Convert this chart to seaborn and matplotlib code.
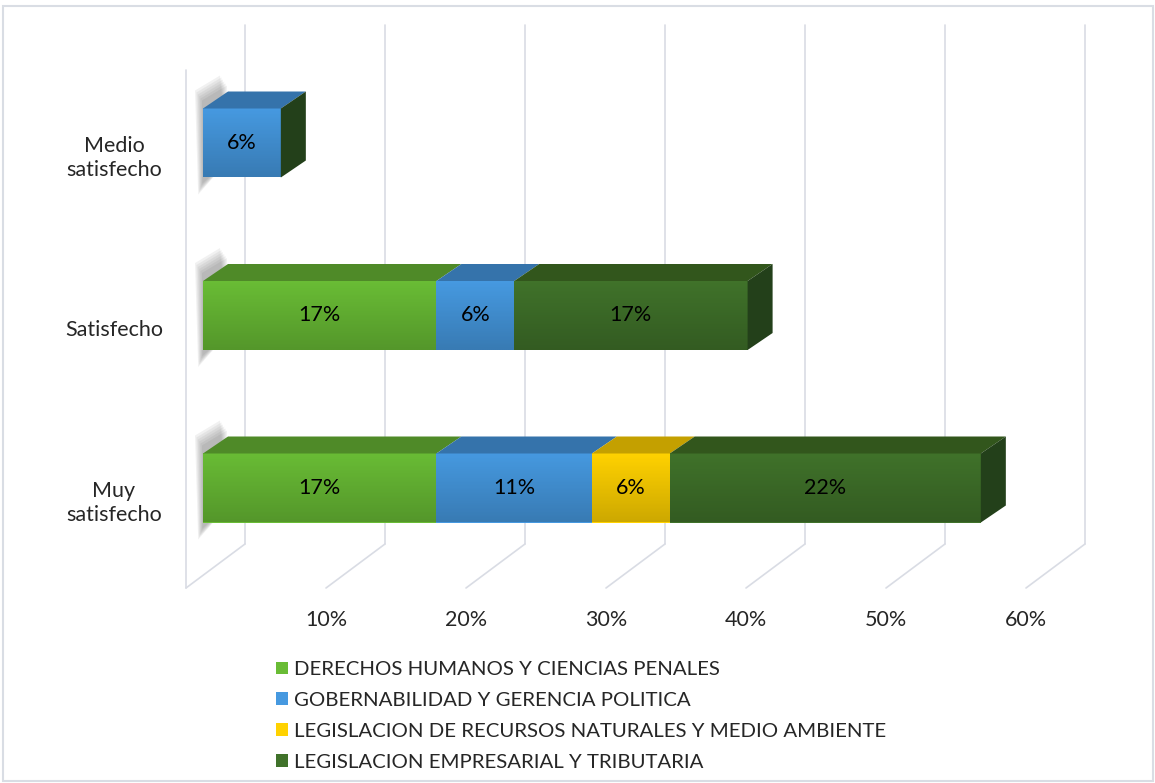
import numpy as np
import matplotlib
matplotlib.use("Agg")
import matplotlib.pyplot as plt
from matplotlib.patches import Polygon, Patch, Rectangle
import seaborn as sns

# ---- data (shares of respondents, n = 18) ----
categories = ["Medio\nsatisfecho", "Satisfecho", "Muy\nsatisfecho"]
series = ["DERECHOS HUMANOS Y CIENCIAS PENALES",
          "GOBERNABILIDAD Y GERENCIA POLITICA",
          "LEGISLACION DE RECURSOS NATURALES Y MEDIO AMBIENTE",
          "LEGISLACION EMPRESARIAL Y TRIBUTARIA"]
derechos = [0.0, 16.67, 16.67]
gobernabilidad = [5.56, 5.56, 11.11]
recursos = [0.0, 0.0, 5.56]
empresarial = [0.0, 16.67, 22.22]
tick_vals = [10, 20, 30, 40, 50, 60]

values = np.array([derechos, gobernabilidad, recursos, empresarial])
front_cols = ["#69BC35", "#4699E0", "#FFD200", "#40722A"]
top_cols = ["#4F8A28", "#3573AB", "#C4A000", "#32561C"]
side_col = "#23401A"
grid_col = "#D9DCE4"

sns.set_theme(style="white")
plt.rcParams["font.family"] = ["Lato", "DejaVu Sans"]

W, H = 1155, 783
fig = plt.figure(figsize=(W / 100, H / 100), dpi=100)
ax = fig.add_axes([0, 0, 1, 1])

# pixel -> data helpers (x in %, y in category units)
X0, PXX = 203, 14.0
Y0, PXY = 143, 172.5
def dx(p): return p / PXX
def dy(p): return p / PXY

# stacked front faces with seaborn (cumulative, drawn back to front)
cum = values.cumsum(axis=0)
for i in reversed(range(len(series))):
    sns.barplot(x=cum[i], y=categories, orient="h", color=front_cols[i],
                saturation=1, width=0.4, linewidth=0, ax=ax, zorder=3)

ax.axis("off")

# walls / gridlines (oblique projection)
back_dx, front_dx = dx(42), dx(-17)
grid_top, back_bot, front_bot = dy(25 - Y0), dy(544 - Y0), dy(588 - Y0)
for t in [0] + tick_vals:
    ax.plot([t + back_dx] * 2, [grid_top, back_bot], color=grid_col, lw=1.2, zorder=1)
    ax.plot([t + back_dx, t + front_dx], [back_bot, front_bot], color=grid_col, lw=1.2, zorder=1)
ax.plot([front_dx] * 2, [dy(70 - Y0), front_bot], color=grid_col, lw=1.2, zorder=1)
for t in tick_vals:
    ax.text(t + front_dx, dy(620 - Y0), f"{t}%", ha="center", va="center", fontsize=15.5)

# 3d decoration of the bars
bdx, bdy, bh = dx(25), dy(-17), 0.4
grad = np.zeros((64, 2, 4))
grad[:, :, 3] = np.linspace(0, 0.2, 64)[:, None]
for r in range(len(categories)):
    top, bot = r - bh / 2, r + bh / 2
    total = cum[-1, r]
    # soft shadow at the left end
    for k in range(6):
        s = 1 + k * 1.4
        ax.add_patch(Polygon([(dx(-s), top - dy(8 + k * 2)), (bdx - dx(s), top + bdy - dy(6 + k * 2)),
                              (bdx, bot + bdy), (dx(-s * 0.6), bot + dy(6 + k * 2.2))],
                             closed=True, facecolor="#404040", alpha=0.07, lw=0, zorder=2))
    # vertical shading over the front face
    ax.imshow(grad, extent=[0, total, bot, top], aspect="auto", zorder=3.5,
              interpolation="bilinear")
    start = 0.0
    for i in range(len(series)):
        v = values[i, r]
        if v <= 0:
            continue
        end = start + v
        ax.add_patch(Polygon([(start, top), (end, top), (end + bdx, top + bdy), (start + bdx, top + bdy)],
                             closed=True, facecolor=top_cols[i], lw=0, zorder=4))
        ax.text((start + end) / 2, r, f"{v:.0f}%", ha="center", va="center",
                fontsize=15.5, color="black", zorder=6)
        start = end
    ax.add_patch(Polygon([(total, top), (total + bdx, top + bdy), (total + bdx, bot + bdy), (total, bot)],
                         closed=True, facecolor=side_col, lw=0, zorder=4))
    # category labels sit at the front (floor) depth, a little below the bar centre
    ax.text(dx(114 - X0), r + dy(15), categories[r], ha="center", va="center", fontsize=15.5,
            linespacing=1.3)

ax.set_xlim(-X0 / PXX, (W - X0) / PXX)
ax.set_ylim((H - Y0) / PXY, -Y0 / PXY)

handles = [Patch(facecolor=c, edgecolor="none") for c in front_cols]
fig.legend(handles, series, loc="upper left", bbox_to_anchor=(266 / W, 1 - 651 / H),
           frameon=False, fontsize=14.7, handlelength=0.6, handleheight=0.6,
           handletextpad=0.25, labelspacing=0.68, borderpad=0)

fig.patches.append(Rectangle((3 / W, 2 / H), 1150 / W, 775 / H, transform=fig.transFigure,
                             fill=False, edgecolor="#D9DDE4", lw=1.5))

fig.savefig("out.png", dpi=100, facecolor="white")
